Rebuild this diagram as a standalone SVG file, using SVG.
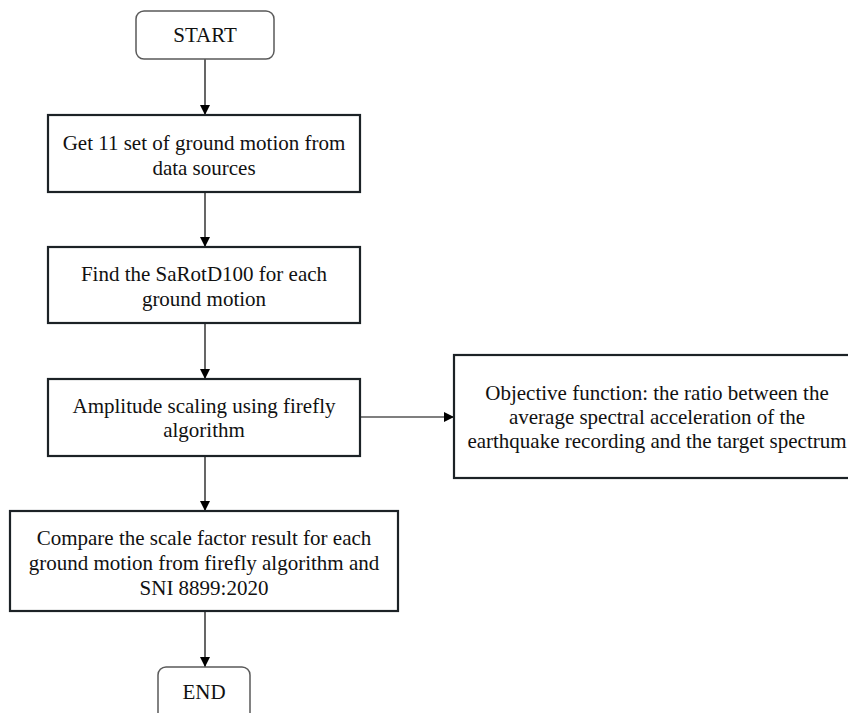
<svg xmlns="http://www.w3.org/2000/svg" width="848" height="713" viewBox="0 0 848 713">
<style>
text{font-size:21px;fill:#111;text-anchor:middle}
.box{fill:#fff;stroke:#1c2226;stroke-width:2.2}
.term{fill:#fff;stroke:#5a5a5a;stroke-width:1.5}
.conn{stroke:#000;stroke-width:1.2;fill:none;marker-end:url(#ah)}
</style>
<defs>
<marker id="ah" viewBox="0 0 10 10" refX="10" refY="5" markerWidth="10" markerHeight="10" markerUnits="userSpaceOnUse" orient="auto">
<path d="M0,0 L10,5 L0,10 z" fill="#000"/>
</marker>
</defs>
<rect width="848" height="713" fill="#fff"/>
<g id="connectors">
<line class="conn" x1="205" y1="59" x2="205" y2="115"/>
<line class="conn" x1="205" y1="192" x2="205" y2="247"/>
<line class="conn" x1="205" y1="323" x2="205" y2="379"/>
<line class="conn" x1="205" y1="456" x2="205" y2="511"/>
<line class="conn" x1="205" y1="611" x2="205" y2="667"/>
<line class="conn" x1="360" y1="417" x2="454" y2="417"/>
</g>
<g font-family="'Liberation Serif', Tinos, 'Times New Roman', Times, serif">
<g id="start">
<rect class="term" x="136" y="11" width="138" height="48" rx="8"/>
<text x="205" y="42">START</text>
</g>
<g id="get">
<rect class="box" x="48" y="115" width="312" height="77"/>
<text x="204" y="150">Get 11 set of ground motion from</text>
<text x="204" y="175">data sources</text>
</g>
<g id="find">
<rect class="box" x="48" y="247" width="312" height="76"/>
<text x="204" y="281">Find the SaRotD100 for each</text>
<text x="204" y="306">ground motion</text>
</g>
<g id="amplitude">
<rect class="box" x="48" y="379" width="312" height="77"/>
<text x="204" y="413">Amplitude scaling using firefly</text>
<text x="204" y="437">algorithm</text>
</g>
<g id="objective">
<rect class="box" x="454" y="355" width="410" height="123"/>
<text x="657" y="400">Objective function: the ratio between the</text>
<text x="657" y="424">average spectral acceleration of the</text>
<text x="657" y="448">earthquake recording and the target spectrum</text>
</g>
<g id="compare">
<rect class="box" x="10" y="511" width="388" height="100"/>
<text x="204" y="545">Compare the scale factor result for each</text>
<text x="204" y="570">ground motion from firefly algorithm and</text>
<text x="204" y="595">SNI 8899:2020</text>
</g>
<g id="end">
<rect class="term" x="158" y="667" width="92" height="60" rx="8"/>
<text x="204" y="699">END</text>
</g>
</g>
</svg>
